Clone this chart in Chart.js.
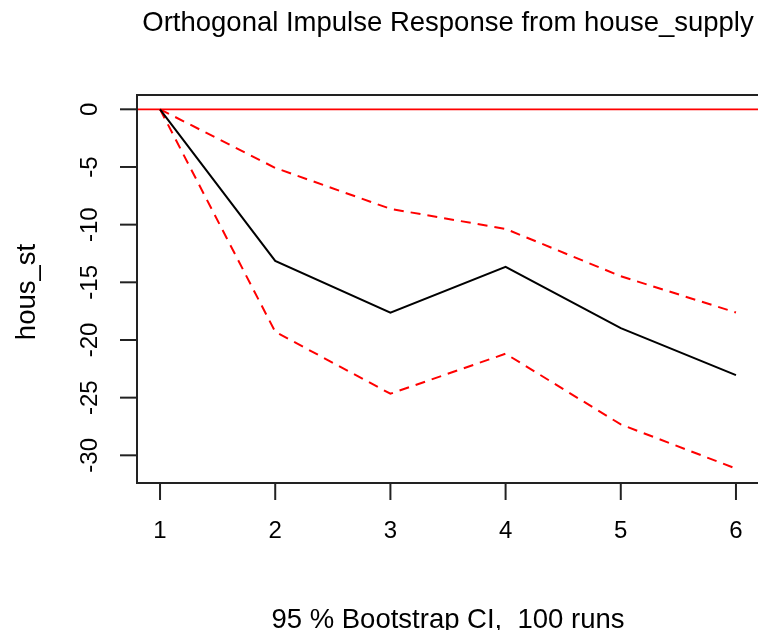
<!DOCTYPE html>
<html>
<head>
<meta charset="utf-8">
<script src="https://cdn.jsdelivr.net/npm/chart.js@4"></script>
<style>
html,body{margin:0;padding:0;background:#fff;overflow:hidden;width:758px;height:630px;}
#wrap{position:absolute;left:0;top:0;width:780px;height:630px;}
</style>
</head>
<body>
<div id="wrap"><canvas id="c" width="780" height="630"></canvas></div>
<script>
const steps = [1, 2, 3, 4, 5, 6];
const irf   = [0, -13.14, -17.64, -13.66, -18.98, -23.05];
const upper = [0, -5.08, -8.63, -10.37, -14.47, -17.62];
const lower = [0, -19.29, -24.66, -21.19, -27.32, -31.15];
const yTicks = [0, -5, -10, -15, -20, -25, -30];
const xTicks = [1, 2, 3, 4, 5, 6];
const titleText = 'Orthogonal Impulse Response from house_supply';
const xLabel = '95 % Bootstrap CI,  100 runs';
const yLabel = 'hous_st';

const FONT = "'Liberation Sans', Arial, sans-serif";
const pts = arr => steps.map((s, i) => ({x: s, y: arr[i]}));

const rPlot = {
  id: 'rPlot',
  beforeDatasetsDraw(chart) {
    const ctx = chart.ctx, ca = chart.chartArea, ys = chart.scales.y;
    const y0 = ys.getPixelForValue(0);
    ctx.save();
    ctx.strokeStyle = '#ff0000';
    ctx.lineWidth = 1.8;
    ctx.beginPath();
    ctx.moveTo(ca.left, y0);
    ctx.lineTo(ca.right, y0);
    ctx.stroke();
    ctx.restore();
  },
  afterDraw(chart) {
    const ctx = chart.ctx, ca = chart.chartArea;
    const xs = chart.scales.x, ys = chart.scales.y;
    ctx.save();
    ctx.strokeStyle = '#222';
    ctx.lineWidth = 2;
    ctx.strokeRect(ca.left, ca.top, ca.right - ca.left, ca.bottom - ca.top);
    ctx.fillStyle = '#000';
    // y ticks
    ctx.font = '24px ' + FONT;
    yTicks.forEach(v => {
      const py = ys.getPixelForValue(v);
      ctx.beginPath();
      ctx.moveTo(ca.left, py);
      ctx.lineTo(ca.left - 17, py);
      ctx.stroke();
      ctx.save();
      ctx.translate(97, py);
      ctx.rotate(-Math.PI / 2);
      ctx.textAlign = 'center';
      ctx.textBaseline = 'alphabetic';
      ctx.fillText(String(v), 0, 0);
      ctx.restore();
    });
    // x ticks
    xTicks.forEach(v => {
      const px = xs.getPixelForValue(v);
      ctx.beginPath();
      ctx.moveTo(px, ca.bottom);
      ctx.lineTo(px, ca.bottom + 17);
      ctx.stroke();
      ctx.textAlign = 'center';
      ctx.textBaseline = 'alphabetic';
      ctx.fillText(String(v), px, 538);
    });
    // titles
    ctx.font = '27.5px ' + FONT;
    ctx.textAlign = 'center';
    ctx.fillText(titleText, 448, 31);
    ctx.fillText(xLabel, 448, 628);
    ctx.save();
    ctx.translate(35, 292);
    ctx.rotate(-Math.PI / 2);
    ctx.fillText(yLabel, 0, 0);
    ctx.restore();
    ctx.restore();
  }
};

new Chart(document.getElementById('c'), {
  type: 'line',
  data: {
    datasets: [
      {label: 'irf', data: pts(irf), borderColor: '#000', borderWidth: 2, pointRadius: 0, tension: 0, fill: false},
      {label: 'upper', data: pts(upper), borderColor: '#ff0000', borderWidth: 2, borderDash: [10, 7], pointRadius: 0, tension: 0, fill: false},
      {label: 'lower', data: pts(lower), borderColor: '#ff0000', borderWidth: 2, borderDash: [10, 7], pointRadius: 0, tension: 0, fill: false}
    ]
  },
  options: {
    responsive: false,
    animation: false,
    layout: {padding: {left: 137, right: 21, top: 95, bottom: 147}},
    plugins: {legend: {display: false}, tooltip: {enabled: false}, title: {display: false}},
    scales: {
      x: {type: 'linear', min: 0.8, max: 6.2, display: false},
      y: {type: 'linear', min: -32.4, max: 1.24, display: false}
    }
  },
  plugins: [rPlot]
});
</script>
</body>
</html>
